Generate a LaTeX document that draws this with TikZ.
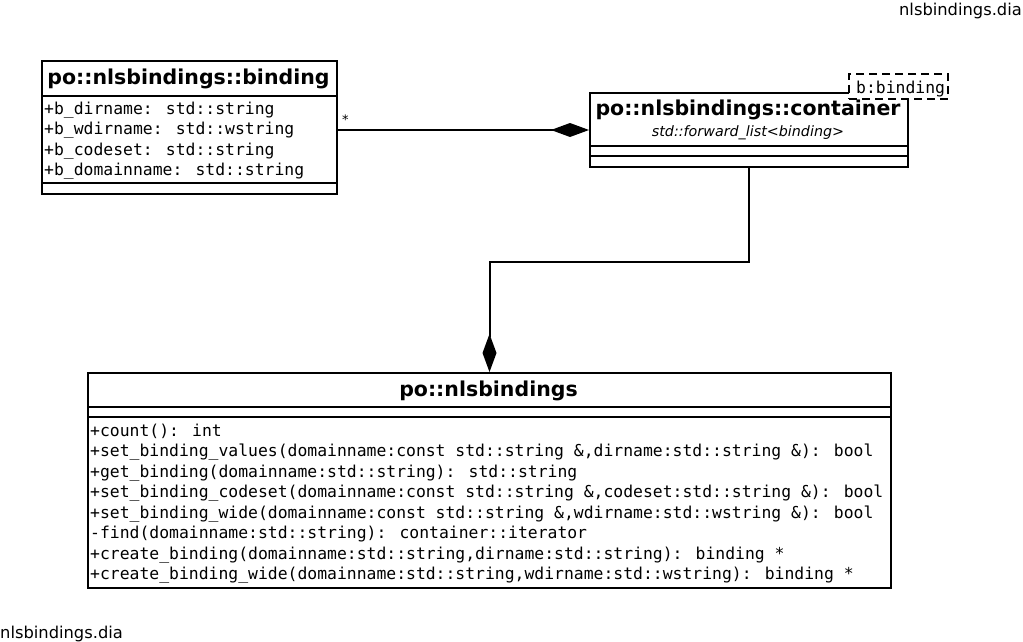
\documentclass[tikz,border=0pt]{standalone}
\usepackage{fontspec}
\setmainfont{DejaVu Sans}
\newfontfamily\monof{DejaVu Sans Mono}
\usetikzlibrary{arrows.meta}
\begin{document}
\begin{tikzpicture}[x=1pt,y=-1pt,
  cls/.style={draw,line width=2pt,inner sep=0pt,anchor=north west,fill=white},
  ttl/.style={anchor=base,inner sep=0pt,font=\bfseries\fontsize{20.5}{24}\selectfont},
  mono/.style={anchor=base west,inner sep=0pt,font=\monof\fontsize{16.4}{20}\selectfont},
  sep/.style={line width=2pt},
  conn/.style={line width=2pt},
  agg/.style={conn,-{Diamond[length=38pt,width=14pt]}},
  fname/.style={inner sep=0pt,font=\fontsize{16.3}{20}\selectfont}
  ]
\useasboundingbox (0,0) rectangle (1023,642);

% class po::nlsbindings::binding
\node[cls,minimum width=295pt,minimum height=133pt] (bind) at (41,60) {};
\draw[sep] (41,96) -- (336,96);
\draw[sep] (41,183) -- (336,183);
\node[ttl] (bindt) at (188.5,84.5) {po::nlsbindings::binding};
\node[mono] (ba1) at (44,114) {+b\_dirname: std::string};
\node[mono] (ba2) at (44,134.5) {+b\_wdirname: std::wstring};
\node[mono] (ba3) at (44,155) {+b\_codeset: std::string};
\node[mono] (ba4) at (44,175.5) {+b\_domainname: std::string};

% class po::nlsbindings::container
\node[cls,minimum width=318pt,minimum height=74pt] (cont) at (589,92) {};
\draw[sep] (589,146) -- (907,146);
\draw[sep] (589,156) -- (907,156);
\node[ttl] (contt) at (748,115.5) {po::nlsbindings::container};
\node[anchor=base,inner sep=0pt,font=\itshape\fontsize{14.3}{17}\selectfont] (stereo) at (748,136.5) {std::forward\_list<binding>};
\node[draw,line width=2pt,dash pattern=on 8pt off 5pt,fill=white,minimum width=99pt,minimum height=25pt,inner sep=0pt] (tpl) at (898.5,86.5) {};
\node[mono] (tplt) at (856,93.5) {b:binding};

% class po::nlsbindings
\node[cls,minimum width=803pt,minimum height=215pt] (nls) at (87,372) {};
\draw[sep] (87,407) -- (890,407);
\draw[sep] (87,417) -- (890,417);
\node[ttl] (nlst) at (488.5,396.5) {po::nlsbindings};
\node[mono] (o1) at (90,436.5) {+count(): int};
\node[mono] (o2) at (90,456.9) {+set\_binding\_values(domainname:const std::string \&,dirname:std::string \&): bool};
\node[mono] (o3) at (90,477.4) {+get\_binding(domainname:std::string): std::string};
\node[mono] (o4) at (90,497.8) {+set\_binding\_codeset(domainname:const std::string \&,codeset:std::string \&): bool};
\node[mono] (o5) at (90,518.2) {+set\_binding\_wide(domainname:const std::string \&,wdirname:std::wstring \&): bool};
\node[mono] (o6) at (90,538.6) {-find(domainname:std::string): container::iterator};
\node[mono] (o7) at (90,559.1) {+create\_binding(domainname:std::string,dirname:std::string): binding *};
\node[mono] (o8) at (90,579.5) {+create\_binding\_wide(domainname:std::string,wdirname:std::wstring): binding *};

% connectors
\draw[agg] (bind.east |- cont.west) -- (cont.west);
\node[anchor=base west,inner sep=0pt,font=\fontsize{13}{15}\selectfont] (star) at (342,124) {*};
\draw[agg] (cont.south) -- ++(0,94) -| (nls.north);

% file names
\node[fname,anchor=base east] (fn1) at (1022,15.5) {nlsbindings.dia};
\node[fname,anchor=base west] (fn2) at (0,638.5) {nlsbindings.dia};
\end{tikzpicture}
\end{document}
